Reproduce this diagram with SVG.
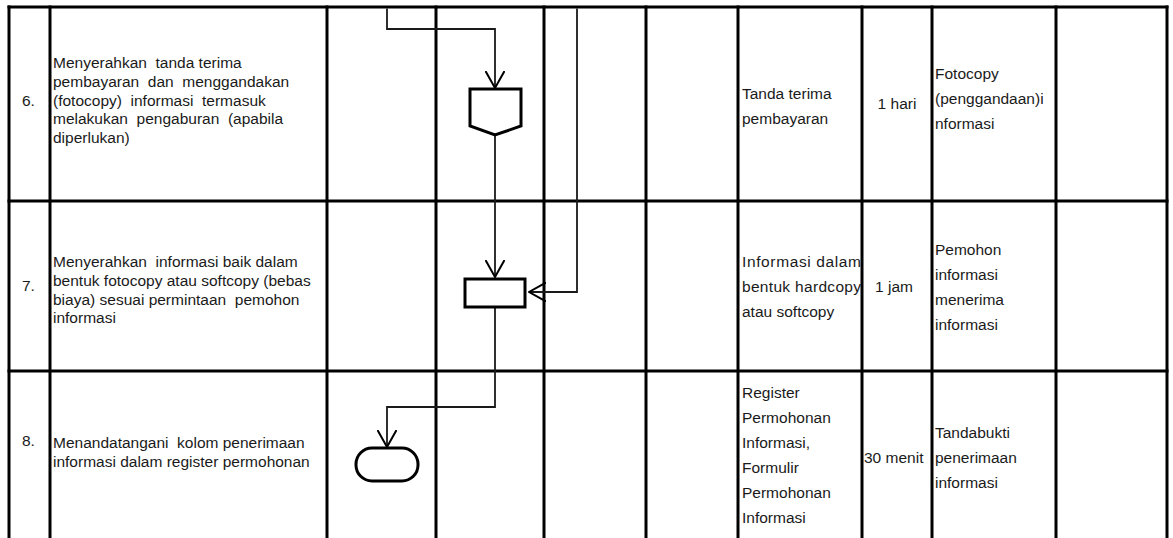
<svg xmlns="http://www.w3.org/2000/svg" width="1173" height="538" viewBox="0 0 1173 538">
<style>
.grid line{stroke:#000;stroke-width:3}
.t{font-family:"Liberation Sans",Arial,sans-serif;font-size:15.5px;fill:#1a1a1a;white-space:pre}
.c{text-anchor:middle}
.conn{fill:none;stroke:#1a1a1a;stroke-width:1.8}
.shape{fill:#fff;stroke:#000;stroke-width:3}
</style>
<defs>
<marker id="arr" markerUnits="userSpaceOnUse" viewBox="0 0 18 20" refX="17" refY="10" markerWidth="18" markerHeight="20" orient="auto">
<path d="M0,0.5 L17,10 L0,19.5" fill="none" stroke="#000" stroke-width="2"/>
</marker>
</defs>
<rect width="1173" height="538" fill="#fff"/>
<g class="grid">
<line x1="7.5" y1="7" x2="1168.5" y2="7"/>
<line x1="7.5" y1="201" x2="1168.5" y2="201"/>
<line x1="7.5" y1="371" x2="1168.5" y2="371"/>
<line x1="9" y1="5.5" x2="9" y2="538"/>
<line x1="50" y1="5.5" x2="50" y2="538"/>
<line x1="327" y1="5.5" x2="327" y2="538"/>
<line x1="436" y1="5.5" x2="436" y2="538"/>
<line x1="544" y1="5.5" x2="544" y2="538"/>
<line x1="646" y1="5.5" x2="646" y2="538"/>
<line x1="738" y1="5.5" x2="738" y2="538"/>
<line x1="862" y1="5.5" x2="862" y2="538"/>
<line x1="932" y1="5.5" x2="932" y2="538"/>
<line x1="1056" y1="5.5" x2="1056" y2="538"/>
<line x1="1167" y1="5.5" x2="1167" y2="538"/>
</g>
<g id="connectors">
<path class="conn" d="M387,8.5 V29 H495 V88" marker-end="url(#arr)"/>
<path class="conn" d="M495,135 V277" marker-end="url(#arr)"/>
<path class="conn" d="M577,8.5 V292 H529" marker-end="url(#arr)"/>
<path class="conn" d="M495,308 V407 H387 V447" marker-end="url(#arr)"/>
</g>
<g id="node-offpage">
<path class="shape" d="M470,89 H521 V126 L495,135 L470,126 Z"/>
</g>
<g id="node-process">
<rect class="shape" x="465" y="279" width="60" height="28" stroke-width="3.5"/>
</g>
<g id="node-terminator">
<rect class="shape" x="356" y="448" width="62" height="33" rx="16" ry="16"/>
</g>
<g id="row6">
<text class="t" x="22" y="105.5">6.</text>
<text class="t" x="53" y="68">Menyerahkan  tanda terima</text>
<text class="t" x="53" y="87">pembayaran  dan  menggandakan</text>
<text class="t" x="53" y="105.5">(fotocopy)  informasi  termasuk</text>
<text class="t" x="53" y="124">melakukan  pengaburan  (apabila</text>
<text class="t" x="53" y="143">diperlukan)</text>
<text class="t" x="742" y="98.5">Tanda terima</text>
<text class="t" x="742" y="123.5">pembayaran</text>
<text class="t c" x="897" y="109">1 hari</text>
<text class="t" x="935" y="79">Fotocopy</text>
<text class="t" x="935" y="104">(penggandaan)i</text>
<text class="t" x="935" y="129">nformasi</text>
</g>
<g id="row7">
<text class="t" x="22" y="291">7.</text>
<text class="t" x="53" y="267">Menyerahkan  informasi baik dalam</text>
<text class="t" x="53" y="286">bentuk fotocopy atau softcopy (bebas</text>
<text class="t" x="53" y="304.5">biaya) sesuai permintaan  pemohon</text>
<text class="t" x="53" y="323">informasi</text>
<text class="t" x="742" y="267" textLength="119" lengthAdjust="spacing">Informasi dalam</text>
<text class="t" x="742" y="292" textLength="119" lengthAdjust="spacing">bentuk hardcopy</text>
<text class="t" x="742" y="317">atau softcopy</text>
<text class="t c" x="894" y="292">1 jam</text>
<text class="t" x="935" y="255">Pemohon</text>
<text class="t" x="935" y="280">informasi</text>
<text class="t" x="935" y="305">menerima</text>
<text class="t" x="935" y="330">informasi</text>
</g>
<g id="row8">
<text class="t" x="22" y="446">8.</text>
<text class="t" x="53" y="448">Menandatangani  kolom penerimaan</text>
<text class="t" x="53" y="467">informasi dalam register permohonan</text>
<text class="t" x="742" y="398">Register</text>
<text class="t" x="742" y="423">Permohonan</text>
<text class="t" x="742" y="448">Informasi,</text>
<text class="t" x="742" y="473">Formulir</text>
<text class="t" x="742" y="498">Permohonan</text>
<text class="t" x="742" y="523">Informasi</text>
<text class="t" x="864" y="463">30 menit</text>
<text class="t" x="935" y="438">Tandabukti</text>
<text class="t" x="935" y="463">penerimaan</text>
<text class="t" x="935" y="488">informasi</text>
</g>
</svg>
